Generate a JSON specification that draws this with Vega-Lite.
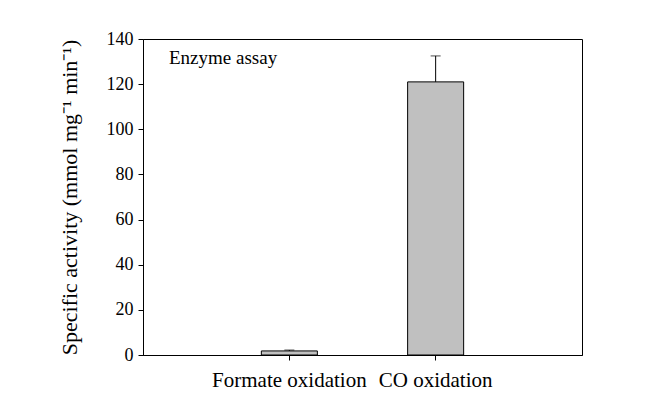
{
  "$schema": "https://vega.github.io/schema/vega-lite/v6.json",
  "width": 439,
  "height": 316,
  "autosize": {"type": "none"},
  "padding": {"left": 143, "top": 39, "right": 68, "bottom": 50},
  "background": "white",
  "title": {
    "text": "Enzyme assay",
    "anchor": "start",
    "frame": "group",
    "orient": "bottom",
    "offset": -326,
    "dx": 26,
    "font": "Liberation Serif",
    "fontSize": 19,
    "fontWeight": "normal",
    "color": "black",
    "baseline": "alphabetic"
  },
  "config": {
    "view": {"stroke": "black", "strokeWidth": 1},
    "axis": {
      "labelFont": "Liberation Serif",
      "titleFont": "Liberation Serif",
      "labelColor": "black",
      "titleColor": "black",
      "domainColor": "black",
      "tickColor": "black",
      "grid": false,
      "domainWidth": 1,
      "tickWidth": 1
    }
  },
  "data": {
    "values": [
      {"condition": "Formate oxidation", "activity": 1.8, "upper": 2.2},
      {"condition": "CO oxidation", "activity": 121, "upper": 132.5}
    ]
  },
  "encoding": {
    "x": {
      "field": "condition",
      "type": "nominal",
      "sort": null,
      "scale": {"paddingInner": 0.617, "paddingOuter": 0.809},
      "axis": {
        "title": null,
        "labelAngle": 0,
        "labelFontSize": 21,
        "tickSize": 5,
        "labelPadding": 9
      }
    }
  },
  "layer": [
    {
      "mark": {"type": "rule", "color": "black", "strokeWidth": 1},
      "encoding": {
        "y": {"field": "activity", "type": "quantitative"},
        "y2": {"field": "upper"}
      }
    },
    {
      "mark": {"type": "tick", "color": "black", "size": 10, "thickness": 1},
      "encoding": {
        "y": {"field": "upper", "type": "quantitative"}
      }
    },
    {
      "mark": {"type": "bar", "fill": "#c0c0c0", "stroke": "black", "strokeWidth": 1},
      "encoding": {
        "y": {
          "field": "activity",
          "type": "quantitative",
          "scale": {"domain": [0, 140], "nice": false},
          "axis": {
            "title": "Specific activity (mmol mg⁻¹ min⁻¹)",
            "titleFontSize": 22,
            "titleFontWeight": "normal",
            "titlePadding": 25,
            "labelFontSize": 18,
            "tickSize": 5,
            "labelPadding": 5,
            "values": [0, 20, 40, 60, 80, 100, 120, 140]
          }
        }
      }
    }
  ]
}
